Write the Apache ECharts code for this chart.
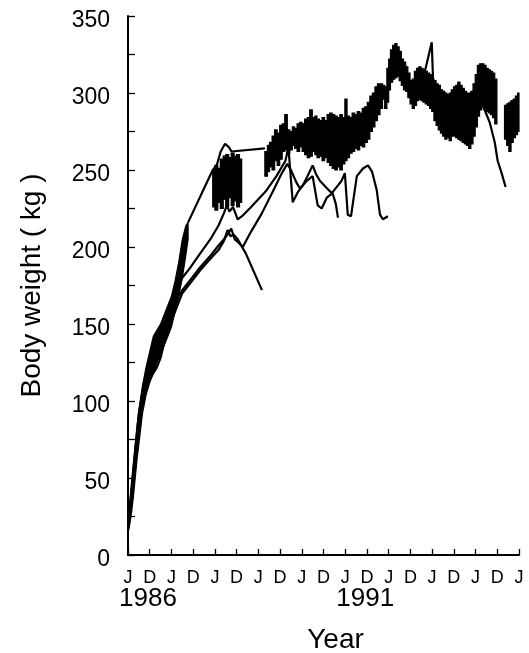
<!DOCTYPE html>
<html><head><meta charset="utf-8">
<script src="https://cdn.jsdelivr.net/npm/echarts@6/dist/echarts.min.js"></script>
<style>html,body{margin:0;padding:0;background:#fff}#c{width:529px;height:653px}</style>
</head><body><div id="c"></div>
<script>
// x axis: months since June 1986; ticks every 6 months alternate J (June) / D (December)
const monthTickLabels = ['J', 'D'];
const yearLabels = { 0: '1986', 60: '1991' };

// Thick band (one animal, dense weighings): month, lower and upper envelope (kg); null = gap
const bandMonth = [0,0.5,1,1.5,2,2.5,3,4,5,6,7,8,9,10,11,12,13,14,15,16,16.6,
  20,
  23.4,24,24.8,25.5,26.3,27,27.8,28.5,29.3,30,30.8,31.4,
  34,
  37.8,38.5,39.1,39.8,40.5,41.2,41.9,42.6,43.3,44.0,44.7,45.4,46.0,46.7,47.4,48.1,48.8,49.5,50.2,50.9,
  51.6,52.2,52.9,53.6,54.3,55.0,55.7,56.4,57.1,57.8,58.5,59.2,59.9,60.5,61.2,61.9,62.6,63.3,64.0,64.7,
  65.4,66.1,66.8,67.5,68.2,68.9,69.6,70.3,70.9,71.5,72.0,72.5,73.1,73.7,74.3,74.9,75.5,76.1,76.7,77.3,
  77.9,78.5,79.1,79.7,80.3,80.9,81.5,82.1,82.7,83.3,83.9,84.5,85.1,85.7,86.3,86.9,87.5,88.1,88.7,89.3,
  89.9,90.5,91.1,91.7,92.3,92.9,93.5,94.1,94.7,95.3,95.9,96.5,97.1,97.7,98.3,98.9,99.5,100.1,100.7,101.3,101.9,
  102.3,
  104.0,104.6,105.2,105.8,106.4,107.0,107.6,108.0];
const bandLow = [14,20,28,38,50,62,72,92,104,112,118,125,130,136,142,148,158,168,180,195,205,
  null,
  226,224,229,225,231,226,232,227,230,226,229,230,
  null,
  246,249,252,250,256,253,257,262,263,261,263,266,264,262,265,262,260,258,259,262,
  260,258,259,256,258,255,253,251,250,252,250,254,256,258,261,262,264,263,266,265,
  268,270,275,278,282,286,290,296,290,294,302,307,309,310,311,308,305,302,301,297,
  293,290,292,295,296,295,294,293,292,290,288,282,279,276,274,272,270,271,269,272,
  272,271,270,269,268,267,266,264,267,272,278,285,289,291,290,288,287,286,284,280,278,
  null,
  270,266,262,268,271,273,275,276];
const bandHigh = [24,35,48,60,72,84,94,110,122,132,142,146,150,156,162,168,178,190,205,214,216,
  null,
  250,253,251,257,259,260,258,261,259,260,257,256,
  null,
  262,266,268,272,276,274,279,280,286,276,275,278,277,280,281,280,283,284,289,284,
  285,283,282,284,282,286,287,286,285,284,286,284,296,285,284,287,286,288,287,290,
  291,294,298,300,304,306,306,305,304,316,322,328,331,332,330,327,322,320,317,313,
  308,309,314,316,317,316,315,314,313,312,309,308,306,305,302,301,300,299,300,302,
  304,305,307,305,303,301,300,300,301,306,312,318,319,319,318,316,315,314,313,309,300,
  null,
  292,293,294,295,296,298,300,301];
// weighings after this month are drawn as steps (vertical edges), earlier as a smooth band
const steppedFrom = 20;

// Thin lines: [month, kg]
const mainLink = [[16.6,216],[23.4,250],[24.5,253],[25.6,262],[26.8,267],[27.8,265],[28.6,262],[37.8,264]];
const animalE = [[0,19],[1,42],[2,68],[3,92],[4,106],[5,116],[6,122],[7,128],[8,134],[9,140],[10,146],[11,152],
  [12,160],[13,168],[14,175],[15,180],[17,186],[20,196],[23,206],[25,214],[26.5,222],[27.3,227],[28,223],[29,226],
  [30.3,218],[31.5,220],[34,226],[38,236],[41,246],[43.5,256],[44.3,265],[45.5,229],[47,236],[48.3,240],[50,248],
  [51,253],[52,247],[53,243],[55,238],[56.3,235],[58,240],[59,243],[59.9,248],[60.7,221],[61.6,220],[63.2,246],
  [64.9,251],[66.3,253],[67.4,249],[68.7,237],[69.6,221],[70.4,218],[71.8,220]];
const animalF = [[0,18],[1,40],[2,65],[3,88],[4,104],[5,112],[6,118],[7,124],[8,130],[9,136],[10,142],[11,148],
  [12,155],[13,162],[14,168],[15,172],[17,178],[20,187],[23,195],[25,201],[26.5,205],[27.5,208],[28.5,212],
  [29.5,205],[30.5,203],[31.7,200],[34,210],[37,222],[40,236],[42.5,248],[44,254],[45,250],[46.5,242],[47.5,238],
  [49.4,243],[51,246],[52.4,227],[53.5,225],[54.9,232],[56.5,235],[57.4,228],[58,219]];
const animalG = [[0,17],[1,38],[2,62],[3,85],[4,100],[5,108],[6,114],[7,118],[8,122],[9,128],[10,138],[11,146],
  [12,152],[13,158],[14,164],[15,170],[17,176],[20,185],[23,193],[25,198],[26.5,204],[27.5,211],[28.3,207],
  [29.2,208],[30.3,205],[31.5,200],[32.5,196],[37,172]];
const animalH = [[97.8,293],[99.9,281],[101.3,268],[102.1,256],[103.2,248],[104.3,239]];
const spikeI = [[81.8,312],[83.9,333],[84.3,306]];

// split the band into continuous segments of indices
const bandSegments = [];
{
  let cur = [];
  for (let i = 0; i < bandMonth.length; i++) {
    if (bandLow[i] == null) {
      if (cur.length) bandSegments.push(cur);
      cur = [];
    } else cur.push(i);
  }
  if (cur.length) bandSegments.push(cur);
}
const bandItems = bandSegments.map((seg, k) => [bandMonth[seg[0]], bandMonth[seg[seg.length - 1]], k]);

const FONT = "'Liberation Sans', Arial, Helvetica, sans-serif";
const lineSeries = (data) => ({
  type: 'line', data, symbol: 'none', showSymbol: false, z: 2, silent: true,
  lineStyle: { color: '#000', width: 2.2 }
});

const chart = echarts.init(document.getElementById('c'), null, { renderer: 'canvas' });
chart.setOption({
  animation: false,
  backgroundColor: '#fff',
  textStyle: { fontFamily: FONT, color: '#000' },
  grid: { left: 128, top: 16, width: 391, height: 539, containLabel: false, outerBoundsMode: 'none' },
  xAxis: [{
    type: 'value', min: 0, max: 108, interval: 6,
    axisLine: { lineStyle: { color: '#000', width: 2 } },
    axisTick: { inside: true, length: 6, lineStyle: { color: '#000', width: 1.3 } },
    axisLabel: { formatter: v => monthTickLabels[Math.round(v / 6) % 2], fontSize: 18, color: '#000',
      margin: 14, fontFamily: FONT, showMinLabel: true, showMaxLabel: true },
    splitLine: { show: false }
  }, {
    type: 'value', min: 0, max: 108, interval: 60, position: 'bottom',
    axisLine: { show: false }, axisTick: { show: false }, splitLine: { show: false },
    axisLabel: { formatter: v => yearLabels[v] || '', fontSize: 26, color: '#000', margin: 31,
      padding: [0, 0, 0, 40], fontFamily: FONT, showMaxLabel: false },
    name: 'Year', nameLocation: 'middle', nameGap: 71,
    nameTextStyle: { fontSize: 28, color: '#000', fontFamily: FONT, padding: [0, 0, 0, 24] }
  }],
  yAxis: {
    type: 'value', min: 0, max: 350, interval: 25,
    axisLine: { show: true, lineStyle: { color: '#000', width: 2 } },
    axisTick: { show: true, inside: true, length: 7, lineStyle: { color: '#000', width: 1.3 } },
    axisLabel: { formatter: v => (v % 50 === 0 ? '{v|' + v + '}' : ''), color: '#000', margin: 18,
      fontFamily: FONT, rich: { v: { fontSize: 23, fontFamily: FONT, color: '#000', padding: [9, 0, 0, 0] } } },
    splitLine: { show: false },
    name: 'Body weight ( kg )', nameLocation: 'middle', nameGap: 82,
    nameTextStyle: { fontSize: 28, color: '#000', fontFamily: FONT }
  },
  series: [
    {
      type: 'custom', data: bandItems, silent: true, z: 3,
      encode: { x: [0, 1] },
      renderItem: (params, api) => {
        const seg = bandSegments[api.value(2)];
        const stepped = bandMonth[seg[0]] >= steppedFrom;
        const upper = [], lower = [];
        for (let j = 0; j < seg.length; j++) {
          const i = seg[j];
          if (stepped) {
            if (j === seg.length - 1) break;
            const mNext = bandMonth[seg[j + 1]];
            upper.push(api.coord([bandMonth[i], bandHigh[i]]), api.coord([mNext, bandHigh[i]]));
            lower.push(api.coord([bandMonth[i], bandLow[i]]), api.coord([mNext, bandLow[i]]));
          } else {
            upper.push(api.coord([bandMonth[i], bandHigh[i]]));
            lower.push(api.coord([bandMonth[i], bandLow[i]]));
          }
        }
        const pts = upper.concat(lower.reverse());
        return { type: 'polygon', shape: { points: pts },
          style: { fill: '#000', stroke: '#000', lineWidth: 1.2, lineJoin: 'miter' } };
      }
    },
    lineSeries(mainLink),
    lineSeries(animalE),
    lineSeries(animalF),
    lineSeries(animalG),
    lineSeries(animalH),
    lineSeries(spikeI)
  ]
});
</script>
</body></html>
